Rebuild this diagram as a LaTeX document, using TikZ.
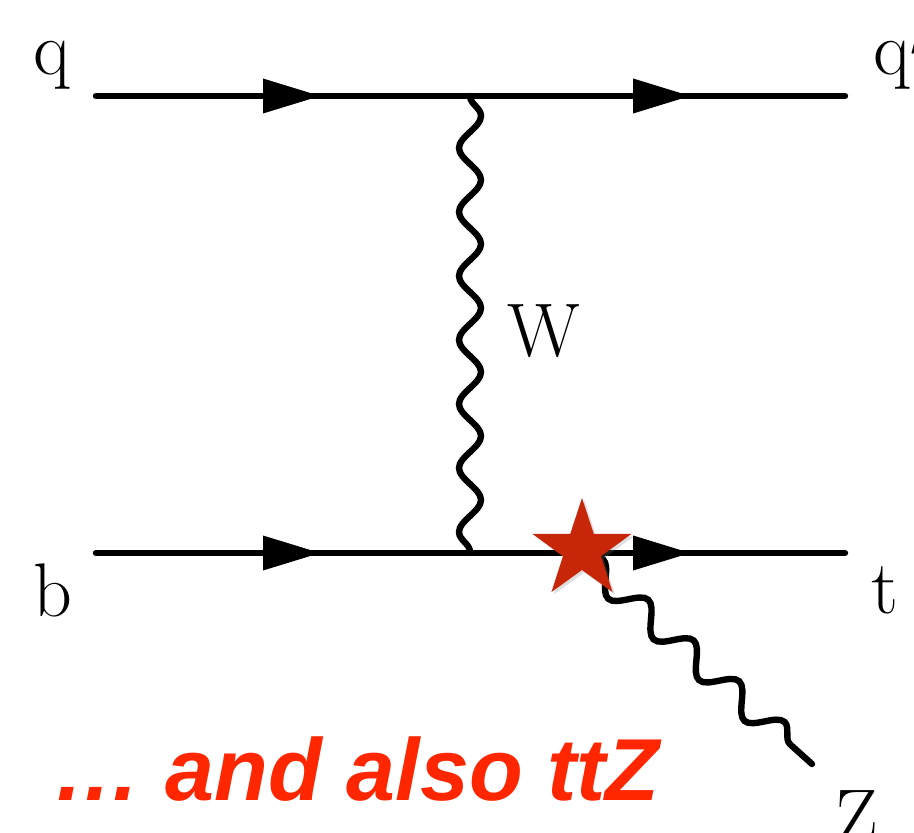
\documentclass[tikz,border=0pt]{standalone}
\usepackage{fontspec}
\newfontfamily\annotfont{Liberation Sans}
\usetikzlibrary{decorations.pathmorphing,decorations.markings,shapes.geometric,shadows}
\definecolor{starred}{RGB}{200,38,8}
\definecolor{textred}{RGB}{255,38,0}
\tikzset{
  fermion/.style={line width=3.2pt, line cap=round, postaction={decorate},
    decoration={markings, mark=at position #1 with {\fill[black] (0,0) -- (-57,17.5) -- (-57,-17.5) -- cycle;}}},
  boson/.style={line width=3.2pt, line cap=round, decorate,
    decoration={snake, amplitude=5.5pt, segment length=#1, pre length=0pt, post length=0pt}},
  lab/.style={anchor=base west, inner sep=0pt, font=\fontsize{38pt}{44pt}\selectfont},
  starmark/.style={star, star points=5, star point ratio=2.6, fill=starred, minimum size=52pt, inner sep=0pt,
    drop shadow={opacity=0.25, shadow xshift=1.2pt, shadow yshift=-1.2pt}},
  note/.style={anchor=base west, inner sep=0pt, text=textred, font=\annotfont\bfseries\itshape\fontsize{44pt}{52pt}\selectfont}
}
\begin{document}
\begin{tikzpicture}[x=0.5pt, y=-0.5pt]
  \path[fill=white] (0,0) rectangle (914,833);
  \useasboundingbox (0,0) rectangle (914,833);
  % vertices and ends
  \coordinate (qin) at (96,96);
  \coordinate (vtop) at (470,96);
  \coordinate (qout) at (845,96);
  \coordinate (bin) at (96,553);
  \coordinate (vbot) at (470,553);
  \coordinate (tout) at (845,553);
  \coordinate (vz) at (580,556);
  \coordinate (zend) at (812,764);
  % fermion lines
  \draw[fermion=0.599] (qin) -- (vtop);
  \draw[fermion=0.587] (vtop) -- (qout);
  \draw[fermion=0.599] (bin) -- (vbot);
  \draw[fermion=0.587] (vbot) -- (tout);
  % bosons
  \draw[boson=32pt] (vtop) -- (vbot);
  \draw[boson=30.5pt, decoration={amplitude=6.5pt}] (vz) -- (zend);
  % star
  \node[starmark] (starv) at (582,550) {};
  % labels
  \node[lab] (lq) at (33,75) {q};
  \node[lab] (lqp) at (873,75) {q$'$};
  \node[lab] (lb) at (33,616) {b};
  \node[lab] (lt) at (871,613) {t};
  \node[lab] (lw) at (507,357) {W};
  \node[lab] (lz) at (835,842) {Z};
  \node[note] (txt) at (53,800) {… and also ttZ};
\end{tikzpicture}
\end{document}
